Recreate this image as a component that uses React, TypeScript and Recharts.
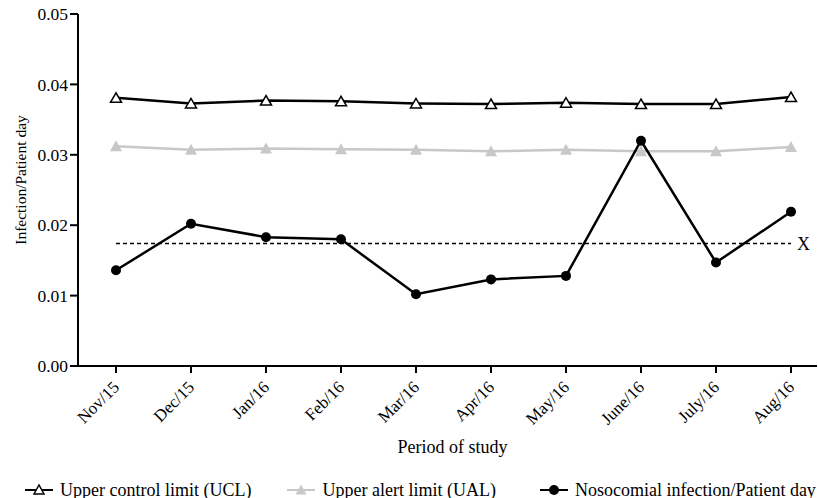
import React from "react";
import { LineChart, Line, XAxis, YAxis, ReferenceLine, Legend } from "recharts";

const months = ["Nov/15", "Dec/15", "Jan/16", "Feb/16", "Mar/16", "Apr/16", "May/16", "June/16", "July/16", "Aug/16"];
const ucl = [0.0381, 0.0373, 0.0377, 0.0376, 0.0373, 0.0372, 0.0374, 0.0372, 0.0372, 0.0382];
const ual = [0.0312, 0.0307, 0.0309, 0.0308, 0.0307, 0.0305, 0.0307, 0.0305, 0.0305, 0.0311];
const infection = [0.0136, 0.0202, 0.0183, 0.018, 0.0102, 0.0123, 0.0128, 0.032, 0.0147, 0.0219];
const meanRate = 0.0174;
const yTicks = [0, 0.01, 0.02, 0.03, 0.04, 0.05];

const data = months.map((m, i) => ({ month: m, ucl: ucl[i], ual: ual[i], infection: infection[i] }));

const FONT = "Liberation Serif, DejaVu Serif, serif";
const GREY = "#c8c8c8";

const OpenTriangle = (props: any) => {
  const { cx, cy } = props;
  if (cx == null || cy == null) return null;
  return (
    <polygon
      points={`${cx},${cy - 5} ${cx - 5.5},${cy + 4.5} ${cx + 5.5},${cy + 4.5}`}
      fill="#fff"
      stroke="#000"
      strokeWidth={1.5}
    />
  );
};

const GreyTriangle = (props: any) => {
  const { cx, cy } = props;
  if (cx == null || cy == null) return null;
  return <polygon points={`${cx},${cy - 6} ${cx - 6},${cy + 5} ${cx + 6},${cy + 5}`} fill={GREY} stroke="none" />;
};

const XTick = ({ x, y, payload }: any) => (
  <g transform={`translate(${x},${y})`}>
    <text x={0} y={0} dy="0.35em" textAnchor="end" transform="rotate(-45)" fontFamily={FONT} fontSize={17} fill="#000">
      {payload.value}
    </text>
  </g>
);

const legendItems = [
  { label: "Upper control limit (UCL)", color: "#000", marker: "open" },
  { label: "Upper alert limit (UAL)", color: GREY, marker: "grey" },
  { label: "Nosocomial infection/Patient day", color: "#000", marker: "dot" },
];

const LegendIcon = ({ color, marker }: { color: string; marker: string }) => (
  <svg width={28} height={14} style={{ marginRight: 7 }}>
    <line x1={0} y1={7} x2={28} y2={7} stroke={color} strokeWidth={2} />
    {marker === "open" && <polygon points="14,2 9,11 19,11" fill="#fff" stroke="#000" strokeWidth={1.5} />}
    {marker === "grey" && <polygon points="14,1.5 8.5,11.5 19.5,11.5" fill={GREY} />}
    {marker === "dot" && <circle cx={14} cy={7} r={5} fill="#000" />}
  </svg>
);

const renderLegend = () => (
  <div
    style={{
      height: 30,
      boxSizing: "border-box",
      paddingTop: 14,
      display: "flex",
      alignItems: "center",
      paddingLeft: 25,
      fontFamily: FONT,
      fontSize: 18,
      color: "#000",
    }}
  >
    {legendItems.map((it, i) => (
      <div key={it.label} style={{ display: "flex", alignItems: "center", marginRight: i === 0 ? 36 : 44 }}>
        <LegendIcon color={it.color} marker={it.marker} />
        <span style={{ whiteSpace: "nowrap" }}>{it.label}</span>
      </div>
    ))}
  </div>
);

export default function App() {
  return (
    <div style={{ position: "absolute", left: 0, top: 0, width: 818, height: 498, background: "#fff" }}>
      <LineChart width={818} height={498} data={data} margin={{ top: 14, right: 1, left: 0, bottom: 0 }}>
        <XAxis
          dataKey="month"
          padding={{ left: 38, right: 26 }}
          height={102}
          interval={0}
          tick={<XTick />}
          tickSize={7}
          tickMargin={11}
          axisLine={{ stroke: "#000", strokeWidth: 2 }}
          tickLine={{ stroke: "#000", strokeWidth: 2 }}
          label={{
            content: (p: any) => {
              const vb = p.viewBox;
              return (
                <text x={vb.x + vb.width / 2 + 5} y={453} textAnchor="middle" fontFamily={FONT} fontSize={18} fill="#000">
                  Period of study
                </text>
              );
            },
          }}
        />
        <YAxis
          width={78}
          domain={[0, 0.05]}
          ticks={yTicks}
          tickFormatter={(v: number) => v.toFixed(2)}
          tickSize={8}
          tickMargin={2}
          tick={{ fontFamily: FONT, fontSize: 17.5, fill: "#000" }}
          axisLine={{ stroke: "#000", strokeWidth: 2 }}
          tickLine={{ stroke: "#000", strokeWidth: 2 }}
          label={{
            content: () => (
              <text
                x={20}
                y={180}
                textAnchor="middle"
                dominantBaseline="central"
                transform="rotate(-90, 20, 180)"
                fontFamily={FONT}
                fontSize={15.5}
                fill="#000"
              >
                Infection/Patient day
              </text>
            ),
          }}
        />
        <Legend verticalAlign="bottom" content={renderLegend} />
        <ReferenceLine
          segment={[
            { x: months[0], y: meanRate },
            { x: months[months.length - 1], y: meanRate },
          ]}
          stroke="#000"
          strokeWidth={1.3}
          strokeDasharray="4 3"
          label={{
            content: (p: any) => {
              const vb = p.viewBox;
              return (
                <text x={vb.x + vb.width + 6} y={vb.y} dy="0.35em" fontFamily={FONT} fontSize={18} fill="#000">
                  X
                </text>
              );
            },
          }}
        />
        <Line dataKey="ual" stroke={GREY} strokeWidth={2.5} dot={<GreyTriangle />} isAnimationActive={false} />
        <Line dataKey="ucl" stroke="#000" strokeWidth={2.5} dot={<OpenTriangle />} isAnimationActive={false} />
        <Line
          dataKey="infection"
          stroke="#000"
          strokeWidth={2.5}
          dot={{ r: 5, fill: "#000", stroke: "none" }}
          isAnimationActive={false}
        />
      </LineChart>
    </div>
  );
}
